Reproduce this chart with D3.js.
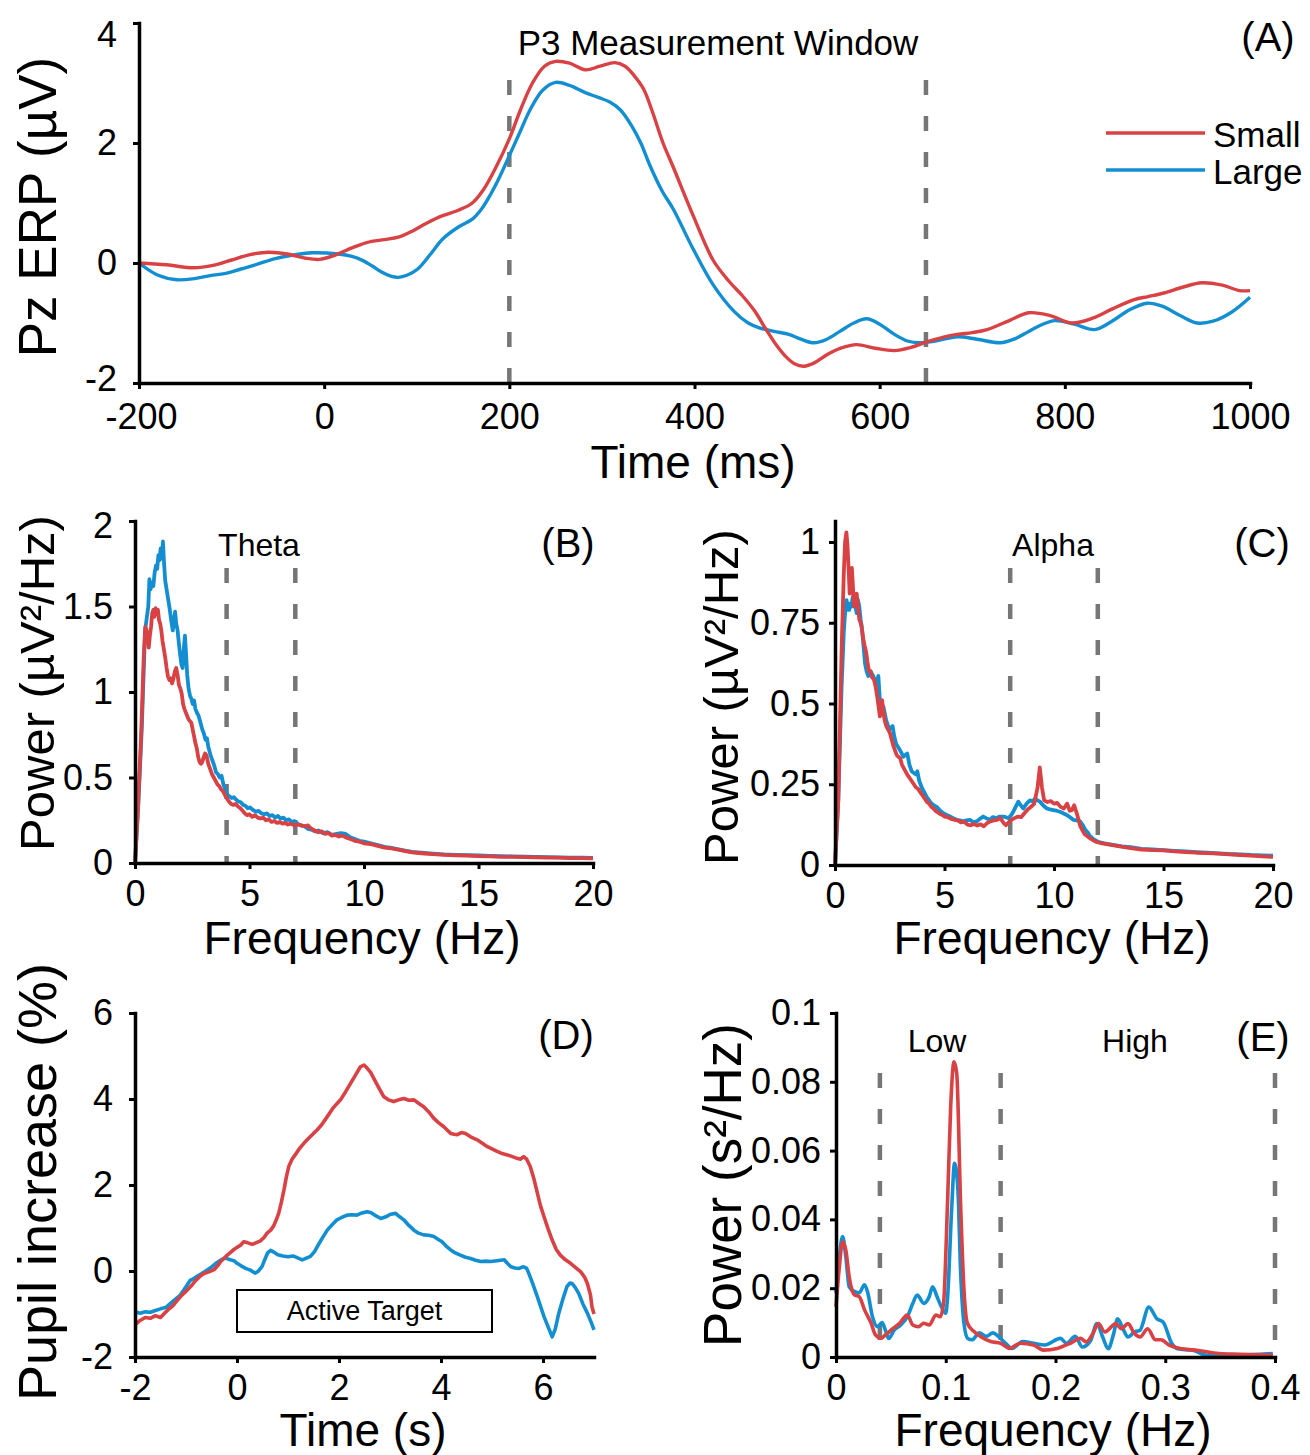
<!DOCTYPE html>
<html><head><meta charset="utf-8">
<script src="https://cdn.jsdelivr.net/npm/d3@7"></script>
<style>body{margin:0;background:#fff} svg text{font-family:"Liberation Sans",Arial,sans-serif;fill:#000}</style>
</head><body>
<svg id="c" width="1310" height="1455"></svg>
<script>
// ---------- DATA ----------
const seriesNames = ["Small","Large"];
// Panel A: Pz ERP (µV) vs time (ms)
const aSmall = [[-200,0],[-170,-0.03],[-141,-0.08],[-120,-0.04],[-100,0.05],[-80,0.14],[-60,0.18],[-40,0.15],[-20,0.08],[-5,0.06],[10,0.12],[25,0.22],[46,0.34],[65,0.39],[80,0.43],[95,0.53],[110,0.66],[128,0.79],[145,0.88],[160,1.0],[172,1.22],[185,1.58],[200,2.07],[212,2.55],[225,3.0],[238,3.28],[250,3.36],[265,3.33],[282,3.22],[298,3.28],[314,3.34],[325,3.28],[335,3.12],[345,2.9],[355,2.5],[366,2.0],[377,1.6],[398,0.81],[420,0.05],[437,-0.3],[452,-0.55],[465,-0.8],[477,-1.1],[488,-1.36],[498,-1.55],[508,-1.68],[518,-1.72],[530,-1.66],[543,-1.53],[558,-1.42],[575,-1.36],[595,-1.42],[616,-1.46],[633,-1.41],[650,-1.32],[668,-1.24],[684,-1.19],[700,-1.16],[716,-1.11],[740,-0.96],[761,-0.83],[785,-0.88],[807,-1.0],[830,-0.92],[852,-0.76],[875,-0.61],[890,-0.56],[907,-0.5],[928,-0.4],[948,-0.33],[970,-0.37],[989,-0.46],[1000,-0.46]];
const aLarge = [[-200,0],[-180,-0.2],[-159,-0.28],[-140,-0.26],[-123,-0.21],[-105,-0.17],[-90,-0.1],[-72,-0.02],[-54,0.07],[-35,0.13],[-13,0.17],[15,0.15],[30,0.11],[42,0.04],[52,-0.05],[62,-0.15],[72,-0.22],[80,-0.24],[90,-0.2],[101,-0.1],[115,0.15],[128,0.4],[145,0.6],[160,0.73],[170,0.9],[180,1.15],[190,1.45],[200,1.79],[212,2.2],[223,2.57],[236,2.88],[250,3.01],[265,2.96],[282,2.84],[296,2.76],[309,2.68],[320,2.55],[332,2.29],[342,2.0],[352,1.62],[365,1.2],[377,0.9],[398,0.25],[420,-0.36],[443,-0.81],[458,-1.0],[470,-1.08],[486,-1.14],[502,-1.19],[515,-1.27],[529,-1.33],[543,-1.27],[557,-1.14],[572,-1.0],[586,-0.93],[600,-1.02],[616,-1.19],[630,-1.3],[643,-1.33],[660,-1.3],[684,-1.23],[705,-1.27],[730,-1.33],[745,-1.27],[761,-1.14],[775,-1.03],[789,-0.96],[810,-1.02],[832,-1.11],[850,-0.98],[870,-0.78],[889,-0.67],[905,-0.72],[925,-0.88],[943,-1.0],[960,-0.97],[980,-0.82],[1000,-0.57]];
const aXTicks = [-200,0,200,400,600,800,1000];
const aYTicks = [-2,0,2,4];
const aWindow = [200,650];

// Panel B: EEG power spectrum (theta)
const bLarge = [[0,0],[0.15,0.35],[0.3,0.8],[0.44,1.36],[0.52,1.44],[0.58,1.5],[0.63,1.66],[0.68,1.6],[0.74,1.64],[0.8,1.62],[0.86,1.7],[0.92,1.74],[0.97,1.72],[1.02,1.8],[1.07,1.77],[1.12,1.84],[1.17,1.78],[1.22,1.88],[1.27,1.75],[1.32,1.65],[1.38,1.6],[1.44,1.55],[1.5,1.5],[1.55,1.45],[1.6,1.4],[1.65,1.36],[1.7,1.42],[1.75,1.47],[1.8,1.4],[1.86,1.36],[1.92,1.28],[1.97,1.22],[2.03,1.16],[2.08,1.14],[2.13,1.25],[2.18,1.33],[2.23,1.22],[2.28,1.1],[2.34,1.02],[2.4,0.98],[2.46,0.96],[2.52,0.93],[2.58,0.95],[2.64,0.9],[2.7,0.88],[2.78,0.86],[2.86,0.82],[2.94,0.78],[3.0,0.76],[3.08,0.72],[3.14,0.73],[3.2,0.68],[3.3,0.63],[3.38,0.6],[3.46,0.57],[3.54,0.53],[3.62,0.52],[3.7,0.5],[3.78,0.51],[3.86,0.46],[3.94,0.43],[4.02,0.4],[4.12,0.39],[4.22,0.38],[4.32,0.385],[4.42,0.37],[4.52,0.36],[4.62,0.355],[4.72,0.34],[4.82,0.335],[4.92,0.32],[5.02,0.325],[5.15,0.31],[5.28,0.3],[5.4,0.305],[5.52,0.29],[5.64,0.285],[5.76,0.29],[5.88,0.275],[6.0,0.28],[6.12,0.265],[6.24,0.275],[6.36,0.26],[6.48,0.265],[6.6,0.25],[6.72,0.255],[6.84,0.24],[6.96,0.245],[7.1,0.23],[7.25,0.22],[7.4,0.215],[7.55,0.2],[7.7,0.195],[7.85,0.185],[8.0,0.19],[8.2,0.175],[8.4,0.18],[8.6,0.165],[8.8,0.17],[9.0,0.175],[9.2,0.17],[9.4,0.15],[9.6,0.14],[9.8,0.13],[10,0.125],[10.3,0.115],[10.6,0.105],[10.9,0.095],[11.2,0.088],[11.5,0.08],[11.8,0.072],[12.1,0.065],[12.5,0.06],[13,0.055],[13.5,0.05],[14,0.048],[14.5,0.046],[15,0.044],[15.5,0.042],[16,0.04],[16.5,0.039],[17,0.037],[17.5,0.036],[18,0.034],[18.5,0.033],[19,0.032],[19.5,0.031],[20,0.03]];
const bSmall = [[0,0],[0.12,0.3],[0.26,0.72],[0.38,1.2],[0.45,1.38],[0.5,1.36],[0.55,1.32],[0.6,1.26],[0.65,1.33],[0.7,1.38],[0.75,1.46],[0.8,1.48],[0.85,1.44],[0.9,1.49],[0.95,1.46],[1.0,1.48],[1.05,1.42],[1.1,1.4],[1.15,1.36],[1.2,1.3],[1.26,1.25],[1.32,1.2],[1.38,1.14],[1.44,1.09],[1.5,1.07],[1.56,1.08],[1.62,1.05],[1.68,1.08],[1.74,1.12],[1.8,1.14],[1.86,1.1],[1.92,1.04],[1.98,1.02],[2.04,0.99],[2.1,0.93],[2.16,0.9],[2.22,0.88],[2.28,0.86],[2.34,0.84],[2.4,0.83],[2.46,0.82],[2.52,0.78],[2.58,0.74],[2.64,0.7],[2.7,0.67],[2.76,0.62],[2.82,0.59],[2.88,0.58],[2.94,0.59],[3.0,0.62],[3.06,0.64],[3.12,0.63],[3.2,0.58],[3.28,0.55],[3.36,0.52],[3.44,0.5],[3.52,0.48],[3.6,0.46],[3.68,0.45],[3.76,0.43],[3.84,0.42],[3.92,0.4],[4.0,0.38],[4.1,0.36],[4.2,0.345],[4.3,0.34],[4.4,0.345],[4.5,0.33],[4.6,0.32],[4.7,0.305],[4.8,0.29],[4.9,0.28],[5.0,0.285],[5.12,0.27],[5.24,0.28],[5.36,0.265],[5.48,0.26],[5.6,0.265],[5.72,0.25],[5.84,0.255],[5.96,0.24],[6.08,0.245],[6.2,0.235],[6.32,0.24],[6.44,0.23],[6.56,0.235],[6.68,0.225],[6.8,0.23],[6.95,0.22],[7.1,0.225],[7.25,0.22],[7.4,0.215],[7.55,0.22],[7.7,0.2],[7.85,0.19],[8.0,0.18],[8.15,0.185],[8.3,0.17],[8.45,0.175],[8.6,0.16],[8.75,0.165],[8.9,0.155],[9.05,0.16],[9.2,0.15],[9.4,0.14],[9.6,0.13],[9.8,0.125],[10,0.115],[10.3,0.11],[10.6,0.1],[10.9,0.09],[11.2,0.085],[11.5,0.078],[11.8,0.07],[12.1,0.062],[12.5,0.057],[13,0.052],[13.5,0.048],[14,0.045],[14.5,0.043],[15,0.04],[15.5,0.039],[16,0.036],[16.5,0.036],[17,0.034],[17.5,0.033],[18,0.031],[18.5,0.031],[19,0.029],[19.5,0.028],[20,0.027]];
const bXTicks = [0,5,10,15,20];
const bYTicks = [0,0.5,1,1.5,2];
const bBand = [4,7];

// Panel C: EEG power spectrum (alpha)
const cSmall = [[0,0],[0.15,0.2],[0.3,0.66],[0.4,0.9],[0.46,1.0],[0.52,1.03],[0.57,0.99],[0.62,0.92],[0.67,0.84],[0.72,0.88],[0.77,0.92],[0.82,0.86],[0.87,0.8],[0.93,0.83],[0.99,0.84],[1.05,0.8],[1.11,0.76],[1.17,0.75],[1.23,0.73],[1.29,0.7],[1.35,0.68],[1.42,0.66],[1.48,0.63],[1.55,0.6],[1.62,0.6],[1.7,0.58],[1.78,0.575],[1.86,0.55],[1.93,0.52],[1.99,0.49],[2.05,0.46],[2.1,0.47],[2.15,0.51],[2.2,0.48],[2.26,0.45],[2.34,0.43],[2.42,0.42],[2.5,0.41],[2.58,0.39],[2.66,0.37],[2.74,0.355],[2.82,0.34],[2.9,0.335],[2.98,0.33],[3.06,0.31],[3.14,0.3],[3.22,0.29],[3.3,0.28],[3.4,0.27],[3.5,0.26],[3.6,0.25],[3.7,0.24],[3.8,0.235],[3.9,0.225],[4.0,0.215],[4.1,0.205],[4.2,0.195],[4.3,0.19],[4.4,0.18],[4.5,0.175],[4.6,0.167],[4.7,0.163],[4.8,0.158],[4.9,0.155],[5.0,0.15],[5.15,0.148],[5.3,0.143],[5.45,0.14],[5.6,0.138],[5.75,0.132],[5.9,0.134],[6.05,0.125],[6.2,0.123],[6.35,0.127],[6.5,0.122],[6.65,0.126],[6.8,0.12],[6.95,0.13],[7.1,0.135],[7.25,0.138],[7.4,0.14],[7.55,0.145],[7.7,0.13],[7.8,0.123],[7.9,0.13],[8.05,0.14],[8.2,0.145],[8.35,0.15],[8.5,0.148],[8.65,0.16],[8.8,0.172],[8.95,0.18],[9.1,0.19],[9.25,0.24],[9.35,0.302],[9.45,0.24],[9.55,0.2],[9.7,0.195],[9.85,0.198],[10.0,0.19],[10.15,0.192],[10.3,0.18],[10.45,0.175],[10.6,0.19],[10.72,0.168],[10.82,0.17],[10.92,0.185],[11.04,0.16],[11.2,0.12],[11.4,0.095],[11.6,0.085],[11.9,0.072],[12.2,0.067],[12.6,0.062],[13.0,0.058],[13.5,0.052],[14,0.048],[14.5,0.046],[15,0.045],[15.5,0.042],[16,0.04],[16.5,0.038],[17,0.037],[17.5,0.035],[18,0.033],[18.5,0.031],[19,0.029],[19.5,0.027],[20,0.025]];
const cLarge = [[0,0],[0.15,0.2],[0.3,0.55],[0.4,0.72],[0.46,0.78],[0.53,0.82],[0.59,0.79],[0.65,0.79],[0.7,0.81],[0.75,0.8],[0.81,0.83],[0.87,0.83],[0.93,0.8],[0.99,0.78],[1.05,0.82],[1.11,0.8],[1.17,0.76],[1.22,0.74],[1.3,0.68],[1.37,0.625],[1.44,0.6],[1.52,0.585],[1.58,0.59],[1.63,0.6],[1.7,0.59],[1.75,0.585],[1.81,0.57],[1.87,0.565],[1.93,0.575],[1.98,0.585],[2.04,0.52],[2.09,0.47],[2.15,0.48],[2.21,0.49],[2.27,0.47],[2.33,0.45],[2.4,0.435],[2.48,0.42],[2.55,0.425],[2.63,0.43],[2.7,0.4],[2.79,0.375],[2.88,0.365],[2.97,0.355],[3.05,0.345],[3.12,0.335],[3.2,0.34],[3.3,0.345],[3.4,0.31],[3.5,0.29],[3.6,0.285],[3.7,0.28],[3.76,0.29],[3.85,0.26],[3.96,0.24],[4.08,0.225],[4.19,0.21],[4.3,0.2],[4.41,0.19],[4.52,0.185],[4.64,0.18],[4.78,0.17],[4.95,0.16],[5.1,0.155],[5.25,0.15],[5.4,0.145],[5.56,0.14],[5.7,0.138],[5.86,0.135],[6.0,0.138],[6.16,0.14],[6.3,0.133],[6.47,0.135],[6.6,0.142],[6.77,0.15],[6.9,0.145],[7.08,0.14],[7.2,0.148],[7.38,0.145],[7.5,0.15],[7.69,0.15],[7.8,0.148],[7.92,0.145],[8.05,0.155],[8.14,0.165],[8.25,0.18],[8.37,0.196],[8.48,0.185],[8.6,0.175],[8.75,0.19],[8.9,0.2],[9.02,0.198],[9.13,0.205],[9.25,0.2],[9.36,0.196],[9.5,0.185],[9.67,0.175],[9.82,0.172],[9.97,0.17],[10.12,0.168],[10.27,0.165],[10.42,0.16],[10.58,0.155],[10.73,0.148],[10.88,0.14],[11.04,0.138],[11.19,0.135],[11.3,0.125],[11.42,0.11],[11.55,0.1],[11.64,0.09],[11.8,0.08],[12,0.072],[12.3,0.067],[12.7,0.062],[13.1,0.058],[13.5,0.055],[14,0.05],[14.5,0.048],[15,0.046],[15.5,0.044],[16,0.042],[16.5,0.04],[17,0.038],[17.5,0.036],[18,0.034],[18.5,0.033],[19,0.031],[19.5,0.03],[20,0.029]];
const cXTicks = [0,5,10,15,20];
const cYTicks = [0,0.25,0.5,0.75,1];
const cBand = [8,12];

// Panel D: pupil increase (%) vs time (s)
const dSmall = [[-2,-1.25],[-1.9,-1.15],[-1.8,-1.08],[-1.7,-1.1],[-1.6,-1.04],[-1.5,-1.08],[-1.42,-0.98],[-1.35,-0.9],[-1.25,-0.8],[-1.17,-0.68],[-1.08,-0.56],[-0.98,-0.45],[-0.9,-0.35],[-0.81,-0.22],[-0.72,-0.12],[-0.65,-0.06],[-0.55,-0.02],[-0.45,0.03],[-0.38,0.12],[-0.32,0.22],[-0.25,0.3],[-0.19,0.37],[-0.12,0.44],[-0.06,0.5],[0.0,0.55],[0.07,0.6],[0.13,0.68],[0.2,0.66],[0.3,0.62],[0.38,0.66],[0.46,0.7],[0.53,0.78],[0.59,0.88],[0.66,0.95],[0.72,1.05],[0.78,1.22],[0.82,1.35],[0.87,1.6],[0.92,1.88],[0.97,2.2],[1.02,2.45],[1.08,2.6],[1.14,2.7],[1.22,2.84],[1.31,2.97],[1.4,3.08],[1.5,3.2],[1.57,3.28],[1.66,3.4],[1.77,3.59],[1.87,3.77],[1.95,3.88],[2.03,3.98],[2.13,4.17],[2.23,4.37],[2.32,4.55],[2.42,4.75],[2.49,4.79],[2.55,4.72],[2.62,4.62],[2.7,4.44],[2.8,4.22],[2.88,4.05],[2.97,3.98],[3.07,3.94],[3.17,3.98],[3.27,4.01],[3.37,3.97],[3.47,3.98],[3.56,3.9],[3.66,3.82],[3.76,3.7],[3.86,3.55],[3.95,3.45],[4.05,3.36],[4.12,3.28],[4.19,3.2],[4.26,3.18],[4.32,3.17],[4.4,3.22],[4.48,3.2],[4.58,3.12],[4.71,3.05],[4.81,2.97],[4.91,2.89],[5.0,2.84],[5.1,2.78],[5.2,2.73],[5.3,2.7],[5.4,2.66],[5.49,2.62],[5.56,2.6],[5.62,2.66],[5.68,2.6],[5.75,2.43],[5.82,2.15],[5.89,1.81],[5.95,1.52],[6.02,1.26],[6.1,0.98],[6.18,0.72],[6.26,0.5],[6.34,0.37],[6.44,0.26],[6.54,0.18],[6.64,0.08],[6.74,-0.02],[6.82,-0.15],[6.87,-0.29],[6.93,-0.55],[6.96,-0.83],[7.0,-1.0]];
const dLarge = [[-2,-0.95],[-1.9,-0.98],[-1.8,-0.95],[-1.7,-0.96],[-1.6,-0.92],[-1.5,-0.88],[-1.4,-0.85],[-1.31,-0.76],[-1.2,-0.65],[-1.11,-0.56],[-1.02,-0.4],[-0.92,-0.22],[-0.85,-0.18],[-0.79,-0.13],[-0.69,-0.06],[-0.59,0.02],[-0.49,0.1],[-0.39,0.2],[-0.3,0.27],[-0.23,0.3],[-0.13,0.26],[-0.06,0.24],[0.0,0.18],[0.08,0.12],[0.17,0.06],[0.26,0.02],[0.36,-0.05],[0.42,0.0],[0.49,0.1],[0.55,0.28],[0.6,0.42],[0.66,0.48],[0.72,0.44],[0.8,0.38],[0.9,0.35],[1.0,0.33],[1.1,0.35],[1.2,0.3],[1.28,0.26],[1.36,0.3],[1.44,0.34],[1.52,0.45],[1.61,0.64],[1.69,0.8],[1.77,0.95],[1.87,1.08],[1.96,1.19],[2.06,1.25],[2.16,1.3],[2.26,1.31],[2.35,1.3],[2.45,1.35],[2.55,1.38],[2.62,1.36],[2.7,1.3],[2.82,1.22],[2.92,1.26],[3.01,1.32],[3.11,1.34],[3.19,1.26],[3.27,1.19],[3.37,1.06],[3.47,0.95],[3.56,0.88],[3.66,0.84],[3.76,0.83],[3.86,0.8],[3.94,0.74],[4.02,0.68],[4.1,0.58],[4.19,0.49],[4.28,0.42],[4.38,0.37],[4.48,0.32],[4.58,0.29],[4.68,0.25],[4.78,0.22],[4.88,0.23],[4.97,0.22],[5.1,0.24],[5.24,0.26],[5.3,0.18],[5.37,0.1],[5.45,0.07],[5.53,0.06],[5.62,0.1],[5.68,0.06],[5.72,-0.05],[5.8,-0.3],[5.89,-0.6],[5.96,-0.85],[6.02,-1.06],[6.1,-1.3],[6.18,-1.53],[6.24,-1.35],[6.31,-0.98],[6.39,-0.65],[6.47,-0.36],[6.53,-0.28],[6.57,-0.29],[6.63,-0.38],[6.7,-0.52],[6.78,-0.76],[6.87,-0.98],[6.94,-1.18],[7.0,-1.37]];
const dXTicks = [-2,0,2,4,6];
const dYTicks = [-2,0,2,4,6];
const dTargetWindow = [0,5];

// Panel E: HRV power spectrum (s²/Hz)
const eSmall = [[0,0.0146],[0.003,0.026],[0.006,0.0335],[0.009,0.031],[0.012,0.0233],[0.017,0.018],[0.021,0.0176],[0.026,0.0137],[0.032,0.0098],[0.036,0.0064],[0.041,0.0054],[0.045,0.0064],[0.052,0.0083],[0.058,0.0098],[0.065,0.0122],[0.07,0.0093],[0.075,0.0088],[0.08,0.0098],[0.085,0.0093],[0.091,0.0122],[0.095,0.0117],[0.098,0.0156],[0.1015,0.0437],[0.1045,0.0728],[0.1075,0.0858],[0.110,0.0825],[0.1136,0.0437],[0.1166,0.0195],[0.1197,0.0098],[0.1258,0.0074],[0.132,0.0059],[0.141,0.0045],[0.15,0.004],[0.158,0.0025],[0.168,0.004],[0.18,0.0035],[0.189,0.002],[0.2015,0.0025],[0.2136,0.004],[0.2227,0.0054],[0.228,0.0044],[0.234,0.0068],[0.239,0.0097],[0.245,0.0073],[0.255,0.0097],[0.26,0.0082],[0.266,0.0097],[0.272,0.0068],[0.277,0.0058],[0.284,0.0082],[0.291,0.005],[0.296,0.005],[0.304,0.0034],[0.315,0.0024],[0.33,0.0019],[0.349,0.001],[0.368,0.0008],[0.398,0.0005]];
const eLarge = [[0,0.0186],[0.003,0.029],[0.006,0.035],[0.009,0.029],[0.012,0.0204],[0.017,0.019],[0.021,0.0186],[0.026,0.021],[0.029,0.0186],[0.033,0.012],[0.038,0.0088],[0.042,0.010],[0.045,0.0078],[0.048,0.0054],[0.053,0.0078],[0.059,0.0093],[0.065,0.0117],[0.07,0.0156],[0.074,0.018],[0.08,0.0156],[0.085,0.0176],[0.088,0.0204],[0.092,0.0176],[0.096,0.0146],[0.1,0.0127],[0.1015,0.0166],[0.1055,0.0437],[0.108,0.0563],[0.111,0.049],[0.1136,0.0244],[0.1166,0.0098],[0.12,0.0054],[0.124,0.005],[0.1306,0.007],[0.137,0.006],[0.143,0.007],[0.148,0.006],[0.1545,0.004],[0.1605,0.0025],[0.17,0.0045],[0.18,0.004],[0.19,0.0035],[0.2045,0.0054],[0.21,0.004],[0.218,0.006],[0.2245,0.0029],[0.232,0.0048],[0.2377,0.0097],[0.243,0.0058],[0.248,0.0024],[0.253,0.0068],[0.2566,0.0111],[0.2615,0.0082],[0.266,0.0058],[0.272,0.0073],[0.277,0.0078],[0.285,0.0145],[0.2925,0.0111],[0.298,0.0102],[0.306,0.0039],[0.311,0.0024],[0.326,0.0019],[0.338,0.0005],[0.36,0.0005],[0.398,0.001]];
const eXTicks = [0,0.1,0.2,0.3,0.4];
const eYTicks = [0,0.02,0.04,0.06,0.08,0.1];
const eBands = [0.04,0.15,0.4];

// ---------- DRAW ----------
const RED = "#d94245", BLUE = "#138fd1", DASH = "#767676";
const TICK_FONT = 36;
const svg = d3.select("#c");

function panel(o) {
  const x = d3.scaleLinear().domain(o.xd).range(o.xr);
  const y = d3.scaleLinear().domain(o.yd).range(o.yr);
  const g = svg.append("g");
  o.dash.forEach(v => g.append("line")
    .attr("x1", x(v)).attr("x2", x(v)).attr("y1", o.dashTop).attr("y2", o.yr[0])
    .attr("stroke", DASH).attr("stroke-width", 4.5).attr("stroke-dasharray", "15,21"));
  const line = d3.line().x(d => x(d[0])).y(d => y(d[1])).curve(o.curve);
  g.append("path").datum(o.large).attr("d", line).attr("fill", "none")
    .attr("stroke", BLUE).attr("stroke-width", o.lw).attr("stroke-linejoin", "round");
  g.append("path").datum(o.small).attr("d", line).attr("fill", "none")
    .attr("stroke", RED).attr("stroke-width", o.lw).attr("stroke-linejoin", "round");
  const xa = g.append("g").attr("transform", `translate(0,${o.yr[0]})`)
    .call(d3.axisBottom(x).tickValues(o.xt).tickFormat(d => String(d)).tickSize(6).tickSizeOuter(0).tickPadding(o.xpad || 11));
  const ya = g.append("g").attr("transform", `translate(${o.xr[0]},0)`)
    .call(d3.axisLeft(y).tickValues(o.yt).tickFormat(d => String(d)).tickSize(6).tickSizeOuter(0).tickPadding(o.ypad || 16));
  [xa, ya].forEach(a => {
    a.select(".domain").attr("stroke", "#000").attr("stroke-width", 3.5).attr("stroke-linecap", "square");
    a.selectAll(".tick line").attr("stroke", "#000").attr("stroke-width", 3);
    a.selectAll(".tick text").attr("font-size", TICK_FONT).attr("font-family", "Liberation Sans, Arial, sans-serif").attr("fill", "#000");
  });
  return {g, x, y, xa, ya};
}

function txt(x, y, s, size, anchor, rot) {
  const t = svg.append("text").attr("font-size", size).attr("text-anchor", anchor || "middle")
    .attr("dominant-baseline", "central").text(s);
  if (rot) t.attr("transform", `translate(${x},${y}) rotate(-90)`);
  else t.attr("x", x).attr("y", y);
  return t;
}

// Panel A
const A = panel({xd:[-200,1000], xr:[139,1250], yd:[-2,4], yr:[383,23], xt:aXTicks, yt:aYTicks,
  small:aSmall, large:aLarge, dash:aWindow, dashTop:80, lw:3.4, curve:d3.curveCatmullRom.alpha(0.5), xpad:14});
A.ya.selectAll(".tick text").filter(d => d === 4).attr("transform", "translate(0,12)");
A.ya.selectAll(".tick text").filter(d => d === -2).attr("transform", "translate(0,-4)");
A.xa.selectAll(".tick text").filter(d => d === -200).attr("transform", "translate(2,0)");
txt(718, 42, "P3 Measurement Window", 35);
txt(1268, 37, "(A)", 40);
[[seriesNames[0], RED, 133], [seriesNames[1], BLUE, 170]].forEach(([n, c, yy]) => {
  svg.append("line").attr("x1", 1106).attr("x2", 1205).attr("y1", yy).attr("y2", yy).attr("stroke", c).attr("stroke-width", 3.5);
  txt(1213, yy + 1, n, 35, "start");
});
txt(37, 207, "Pz ERP (µV)", 53, "middle", true);
txt(693, 462, "Time (ms)", 46);

// Panel B
const B = panel({xd:[0,20], xr:[135,593], yd:[0,2], yr:[863,521], xt:bXTicks, yt:bYTicks,
  small:bSmall, large:bLarge, dash:bBand, dashTop:568, lw:3.8, curve:d3.curveLinear});
B.ya.selectAll(".tick text").filter(d => d === 2).attr("transform", "translate(0,5)");
txt(259, 545, "Theta", 32);
txt(568, 543, "(B)", 40);
txt(37, 683, "Power (µV²/Hz)", 49, "middle", true);
txt(362, 938, "Frequency (Hz)", 46);

// Panel C
const C = panel({xd:[0,20], xr:[835,1273], yd:[0,1.065], yr:[865,521], xt:cXTicks, yt:cYTicks,
  small:cSmall, large:cLarge, dash:cBand, dashTop:568, lw:3.8, curve:d3.curveLinear, ypad:9});
txt(1053, 545, "Alpha", 32);
txt(1262, 543, "(C)", 40);
txt(721, 697, "Power (µV²/Hz)", 49, "middle", true);
txt(1052, 938, "Frequency (Hz)", 46);

// Panel D
const D = panel({xd:[-2,7], xr:[135,594], yd:[-2,6], yr:[1357,1013], xt:dXTicks, yt:dYTicks,
  small:dSmall, large:dLarge, dash:[], dashTop:0, lw:3.6, curve:d3.curveLinear});
svg.append("rect").attr("x", D.x(dTargetWindow[0])).attr("y", 1290)
  .attr("width", D.x(dTargetWindow[1]) - D.x(dTargetWindow[0])).attr("height", 42)
  .attr("fill", "#fff").attr("stroke", "#000").attr("stroke-width", 2);
txt((D.x(dTargetWindow[0]) + D.x(dTargetWindow[1])) / 2, 1311, "Active Target", 27);
txt(566, 1035, "(D)", 40);
txt(37, 1182, "Pupil increase (%)", 54, "middle", true);
txt(363, 1430, "Time (s)", 46);

// Panel E
const E = panel({xd:[0,0.4], xr:[836,1275], yd:[0,0.1], yr:[1357,1013], xt:eXTicks, yt:eYTicks,
  small:eSmall, large:eLarge, dash:eBands, dashTop:1073, lw:3.6, curve:d3.curveMonotoneX, ypad:9});
txt(937, 1041, "Low", 32);
txt(1135, 1041, "High", 32);
txt(1263, 1037, "(E)", 40);
txt(722, 1185, "Power (s²/Hz)", 53, "middle", true);
txt(1053, 1430, "Frequency (Hz)", 46);
</script>
</body></html>
